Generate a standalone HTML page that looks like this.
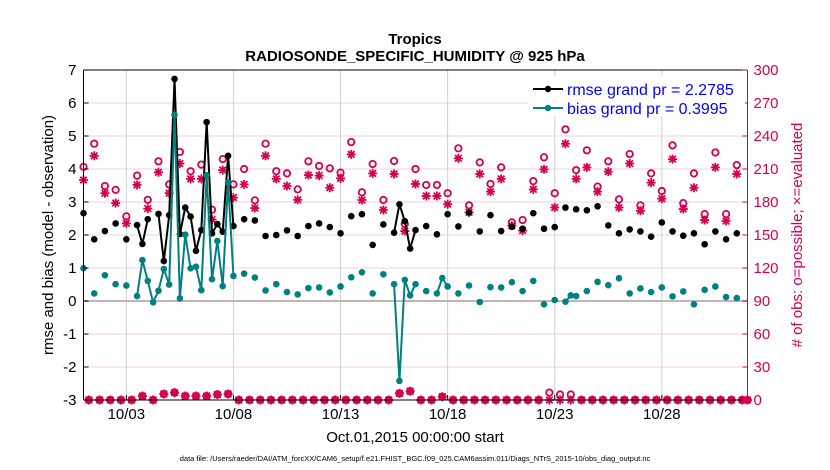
<!DOCTYPE html>
<html><head><meta charset="utf-8"><style>
html,body{margin:0;padding:0;background:#fff;}
svg{display:block;font-family:"Liberation Sans",Arial,sans-serif;}
</style></head><body>
<svg id="chart" width="830" height="470" viewBox="0 0 830 470" xmlns="http://www.w3.org/2000/svg">
<rect x="0" y="0" width="830" height="470" fill="#fff"/>
<g id="grid"></g>
<g id="marks"></g>
<g id="axes"></g>
<text x="415" y="44" font-size="15" font-weight="bold" text-anchor="middle">Tropics</text>
<text x="415" y="61" font-size="15" font-weight="bold" text-anchor="middle">RADIOSONDE_SPECIFIC_HUMIDITY @ 925 hPa</text>
<text x="415" y="442" font-size="15" text-anchor="middle">Oct.01,2015 00:00:00 start</text>
<text x="415" y="461" font-size="7.5" text-anchor="middle">data file: /Users/raeder/DAI/ATM_forcXX/CAM6_setup/f.e21.FHIST_BGC.f09_025.CAM6assim.011/Diags_NTrS_2015-10/obs_diag_output.nc</text>
<text transform="translate(53,235) rotate(-90)" font-size="15" text-anchor="middle">rmse and bias (model - observation)</text>
<text transform="translate(802,235) rotate(-90)" font-size="15" text-anchor="middle" fill="#d6004f"># of obs: o=possible; ×=evaluated</text>
<g id="legend">
<rect x="528" y="76" width="217" height="40" fill="#fff"/>
<g>
<line x1="533" y1="89" x2="563" y2="89" stroke="#000" stroke-width="2"/><circle cx="548" cy="89" r="3.2" fill="#000"/>
<text x="567" y="95" font-size="16" fill="#0000ff">rmse grand pr = 2.2785</text></g>
<g>
<line x1="533" y1="108" x2="563" y2="108" stroke="#008080" stroke-width="2"/><circle cx="548" cy="108" r="3.2" fill="#008080"/>
<text x="567" y="114" font-size="16" fill="#0000ff">bias grand pr = 0.3995</text></g>
</g>
</svg>
<script>
// ---- data ----
const times = [0,0.5,1,1.5,2,2.5,2.75,3,3.25,3.5,3.75,4,4.25,4.5,4.75,5,5.25,5.5,5.75,6,6.25,6.5,6.75,7,7.5,8,8.5,9,9.5,10,10.5,11,11.5,12,12.5,13,13.5,14,14.5,14.75,15,15.25,15.5,16,16.5,16.75,17,17.5,18,18.5,19,19.5,20,20.5,21,21.5,22,22.5,22.75,23,23.5,24,24.5,25,25.5,26,26.5,27,27.5,28,28.5,29,29.5,30,30.5];
const rmse = [2.66,1.87,2.12,2.35,1.87,2.30,1.73,2.48,null,2.64,1.21,2.60,6.73,2.03,2.83,2.56,1.52,2.15,5.42,2.05,2.33,2.10,4.40,2.27,2.48,2.44,1.97,2.0,2.14,1.97,2.27,2.35,2.24,2.05,2.57,2.63,1.70,2.32,2.07,2.93,2.42,1.59,2.15,2.27,2.02,null,2.63,2.26,2.68,2.11,2.60,2.12,2.25,2.19,2.66,2.19,2.24,2.83,null,2.78,2.75,2.87,2.29,2.05,2.17,2.11,1.95,2.38,2.11,1.98,2.05,1.72,2.11,1.87,2.05];
const bias = [0.99,0.23,0.78,0.51,0.47,0.15,1.24,0.61,-0.04,0.31,0.97,0.50,5.64,0.08,2.01,0.99,1.04,0.33,3.81,0.66,1.82,0.45,3.59,0.76,0.83,0.71,0.32,0.51,0.27,0.20,0.39,0.41,0.26,0.44,0.72,0.87,0.23,0.81,0.51,-2.42,0.64,0.17,0.51,0.30,0.23,0.70,0.44,0.23,0.47,-0.03,0.42,0.41,0.57,0.30,0.61,-0.10,0.03,-0.02,0.17,0.15,0.30,0.58,0.48,0.69,0.23,0.38,0.27,0.41,0.14,0.29,-0.10,0.34,0.44,0.12,0.09];
const countTimes = [0,0.5,1,1.5,2,2.5,3,3.5,4,4.5,5,5.5,6,6.5,7,7.5,8,8.5,9,9.5,10,10.5,11,11.5,12,12.5,13,13.5,14,14.5,15,15.5,16,16.5,17,17.5,18,18.5,19,19.5,20,20.5,21,21.5,22,22.5,23,23.5,24,24.5,25,25.5,26,26.5,27,27.5,28,28.5,29,29.5,30,30.5];
const possible = [212,233,194.5,191,167,204,182,217,196,225.5,208,214,173,219,196,210,181.5,233,208,206,191.5,217,212.7,210.6,206.7,234.5,188.8,214.5,181.8,217.3,160,210,195.5,195.5,188,228.8,177,216,196.4,211.5,161.5,163.6,199,220.6,188,246,209,227,194,217,182.4,223.6,177,206,190,231.5,179,206,169,225,169,213.6];
const evaluated = [200,222,188,179,160.6,195.5,174,207,188,215,201,201,164,209,184,196,174.5,222,201,194.5,182,204.5,204,193,201.5,223.3,181.8,206,172.7,205.5,153.6,196.4,185.5,185.5,178,219.7,170.6,205.5,189.4,201,158.5,154,191.5,209.7,175,233,201,211.5,189.4,207.6,175,215,172,197.6,183,219,173.6,193,163.6,211.5,162.7,205.5];
const offTimes = [0.25,0.75,1.25,1.75,2.25,2.75,3.25,3.75,4.25,4.75,5.25,5.75,6.25,6.75,7.25,7.75,8.25,8.75,9.25,9.75,10.25,10.75,11.25,11.75,12.25,12.75,13.25,13.75,14.25,14.75,15.25,15.75,16.25,16.75,17.25,17.75,18.25,18.75,19.25,19.75,20.25,20.75,21.25,21.75,22.25,22.75,23.25,23.75,24.25,24.75,25.25,25.75,26.25,26.75,27.25,27.75,28.25,28.75,29.25,29.75,30.25,30.75,31];
const offPossible = [0,0,0,0,0,3.6,0,5.5,6.7,3.6,3.6,3.6,5,5.5,0,0,0,0,0,0,0,0,0,0,0,0,0,0,0,6,8,0,0,3,0,0,0,0,0,0,0,0,0,6.7,5,5,0,0,0,0,0,0,0,0,0,0,0,0,0,0,0,0,0];
const offEvaluated = [0,0,0,0,0,3.6,0,5.5,6.7,3.6,3.6,3.6,5,5.5,0,0,0,0,0,0,0,0,0,0,0,0,0,0,0,6,8,0,0,3,0,0,0,0,0,0,0,0,0,0,0,0,0,0,0,0,0,0,0,0,0,0,0,0,0,0,0,0,0];
const leftTicks = [-3,-2,-1,0,1,2,3,4,5,6,7];
const rightTicks = [0,30,60,90,120,150,180,210,240,270,300];
const xTickDays = [2,7,12,17,22,27];
const xTickLabels = ["10/03","10/08","10/13","10/18","10/23","10/28"];

// ---- scales ----
const X0=83.5, X1=747.5, Y0=400, Y1=70;
const xs = t => X0 + t*(X1-X0)/31;
const yl = v => Y0 - (v+3)*(Y0-Y1)/10;
const yr = c => Y0 - c*(Y0-Y1)/300;
const NS="http://www.w3.org/2000/svg";
const PINK="#d6004f";
function mk(tag, attrs, parent){const e=document.createElementNS(NS,tag);for(const k in attrs)e.setAttribute(k,attrs[k]);parent.appendChild(e);return e;}
const grid=document.getElementById('grid'), marks=document.getElementById('marks'), axes=document.getElementById('axes');

// grid
rightTicks.forEach(c=>{const l=mk('line',{x1:X0,x2:X1,y1:yr(c),y2:yr(c),stroke:'#f3cfdc','stroke-width':1},grid);

});
xTickDays.forEach(d=>{const l=mk('line',{x1:xs(d),x2:xs(d),y1:Y1,y2:Y0,stroke:'#d0d0d0','stroke-width':1},grid);

});
const zl=mk('line',{x1:X0,x2:X1,y1:yl(0),y2:yl(0),stroke:'#c0b4b8','stroke-width':2},grid);



// count markers
function circ(x,y,parent){const c=mk('circle',{cx:x,cy:y,r:3.2,fill:'none',stroke:PINK,'stroke-width':1.8},parent);

}
function star(x,y,parent){const g=mk('path',{d:`M${x-4.5},${y}H${x+4.5}M${x},${y-4.5}V${y+4.5}M${x-3.3},${y-3.3}L${x+3.3},${y+3.3}M${x-3.3},${y+3.3}L${x+3.3},${y-3.3}`,stroke:PINK,'stroke-width':1.8,fill:'none'},parent);

}
countTimes.forEach((t,i)=>{circ(xs(t),yr(possible[i]),marks);star(xs(t),yr(evaluated[i]),marks);});
offTimes.forEach((t,i)=>{circ(xs(t),yr(offPossible[i]),marks);star(xs(t),yr(offEvaluated[i]),marks);});

// line series
function series(vals,color,name){
  let d='';let prev=null;
  times.forEach((t,i)=>{const v=vals[i];if(v===null){prev=null;return;}
    const x=xs(t),y=yl(v);
    if(prev!==null && t-prev<=0.26) d+=`L${x},${y}`; else d+=`M${x},${y}`;
    prev=t;});
  const p=mk('path',{d:d,stroke:color,'stroke-width':2,fill:'none','stroke-linejoin':'round'},marks);
  
  
  times.forEach((t,i)=>{const v=vals[i];if(v===null)return;
    const c=mk('circle',{cx:xs(t),cy:yl(v),r:3.3,fill:color},marks);
    
    });
}
series(rmse,'#000','rmse');
series(bias,'#008080','bias');

// axes
const frame=[[X0,Y1,X1,Y1,'#000'],[X0,Y0,X1,Y0,'#000'],[X0,Y1,X0,Y0,'#000'],[X1,Y1,X1,Y0,PINK]];
frame.forEach(f=>{const l=mk('line',{x1:f[0],y1:f[1],x2:f[2],y2:f[3],stroke:f[4],'stroke-width':1},axes);

});
leftTicks.forEach(v=>{const y=yl(v);
  const l=mk('line',{x1:X0,x2:X0+5,y1:y,y2:y,stroke:'#000'},axes);
  
  
  const t=mk('text',{x:X0-7,y:y+5,'font-size':15,'text-anchor':'end'},axes);t.textContent=v;
  
  });
rightTicks.forEach(c=>{const y=yr(c);
  const l=mk('line',{x1:X1-5,x2:X1,y1:y,y2:y,stroke:PINK},axes);
  
  
  const t=mk('text',{x:X1+6,y:y+5,'font-size':15,fill:PINK},axes);t.textContent=c;
  
  });
xTickDays.forEach((d,i)=>{const x=xs(d);
  const l=mk('line',{x1:x,x2:x,y1:Y0,y2:Y0-5,stroke:'#000'},axes);
  
  
  const t=mk('text',{x:x,y:Y0+19,'font-size':15,'text-anchor':'middle'},axes);t.textContent=xTickLabels[i];
  
  });
</script>
</body></html>
